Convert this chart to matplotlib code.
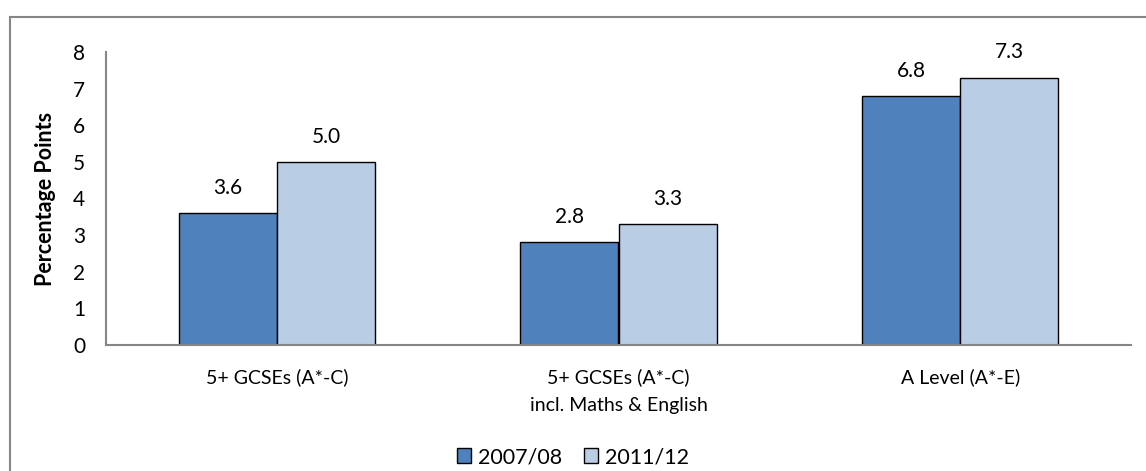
import matplotlib.pyplot as plt
import numpy as np
from matplotlib.lines import Line2D

plt.rcParams['font.family'] = ['Lato', 'DejaVu Sans']

categories = ['5+ GCSEs (A*-C)', '5+ GCSEs (A*-C)\nincl. Maths & English', 'A Level (A*-E)']
series_names = ['2007/08', '2011/12']
vals_0708 = [3.6, 2.8, 6.8]
vals_1112 = [5.0, 3.3, 7.3]
colors = ['#4F81BD', '#B9CDE5']

W, H = 1146, 471
fs = 14

fig = plt.figure(figsize=(W / 100, H / 100), dpi=100)
ax = fig.add_axes([106 / W, 1 - 345 / H, (1131 - 106) / W, (345 - 52) / H])

# outer chart frame (top and left edges fall inside the image)
top = 1 - 16.5 / H
left = 9.5 / W
fig.lines.append(Line2D([left, 1.0], [top, top], transform=fig.transFigure,
                        color='#868686', linewidth=1.5))
fig.lines.append(Line2D([left, left], [0.0, top], transform=fig.transFigure,
                        color='#868686', linewidth=1.5))

x = np.arange(len(categories))
w = 0.287
b1 = ax.bar(x - w / 2, vals_0708, w, color=colors[0], edgecolor='black', linewidth=1.0,
            label=series_names[0])
b2 = ax.bar(x + w / 2, vals_1112, w, color=colors[1], edgecolor='black', linewidth=1.0,
            label=series_names[1])

for bars, vals in [(b1, vals_0708), (b2, vals_1112)]:
    for rect, v in zip(bars, vals):
        ax.annotate(f'{v:.1f}', (rect.get_x() + rect.get_width() / 2, v),
                    xytext=(0, 11), textcoords='offset points',
                    ha='center', va='bottom', fontsize=15)

ax.set_xlim(-0.5, 2.5)
ax.set_ylim(0, 8)
ax.set_yticks(range(0, 9))
ax.set_xticks(x)
ax.set_xticklabels(categories, fontsize=fs, linespacing=1.75)
ax.tick_params(axis='y', length=0, pad=15, labelsize=15)
ax.tick_params(axis='x', length=0, pad=17)
ax.set_ylabel('Percentage Points', fontsize=15.5, fontweight='bold', labelpad=12)

for s in ['top', 'right']:
    ax.spines[s].set_visible(False)
for s in ['left', 'bottom']:
    ax.spines[s].set_color('#868686')
    ax.spines[s].set_linewidth(1.5)

fig.legend(handles=[b1, b2], loc='center', bbox_to_anchor=(0.5, 1 - 457 / H), ncol=2,
           frameon=False, fontsize=15.5, handlelength=0.65, handleheight=0.65,
           handletextpad=0.35, columnspacing=1.0)

fig.savefig('out.png', dpi=100)
